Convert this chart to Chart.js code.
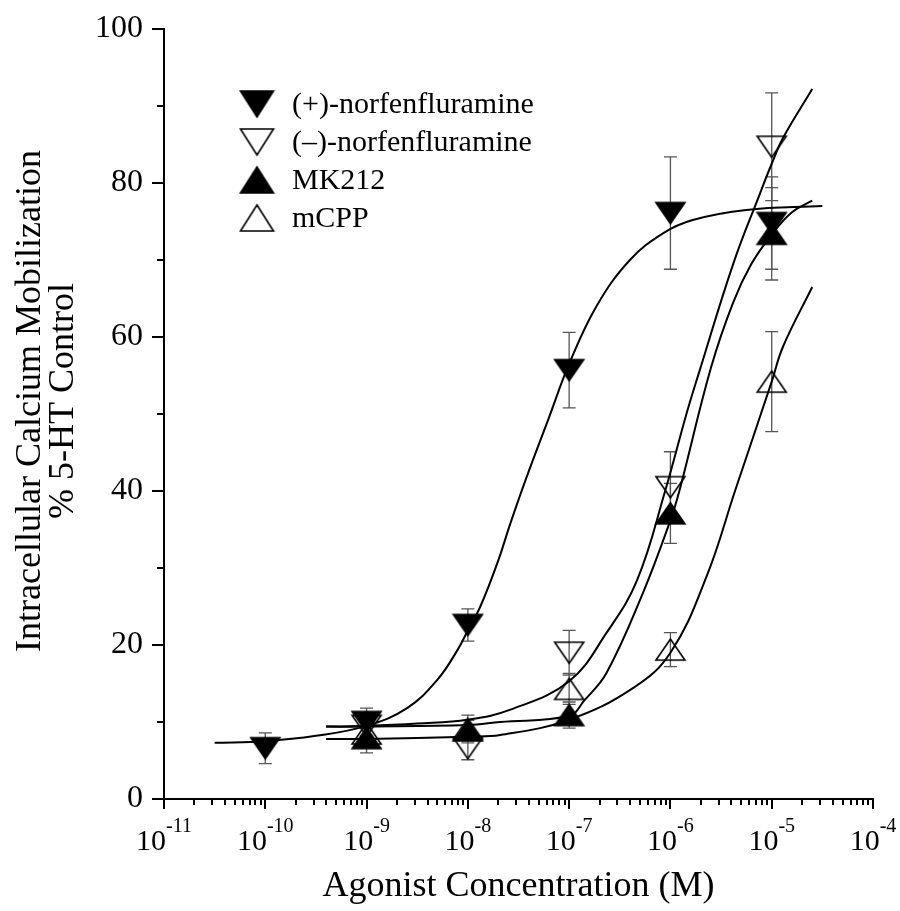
<!DOCTYPE html>
<html>
<head>
<meta charset="utf-8">
<script src="https://cdn.jsdelivr.net/npm/chart.js@4.4.1/dist/chart.umd.min.js"></script>
<style>
  html, body { margin: 0; padding: 0; background: #fff; }
  #wrap { width: 900px; height: 911px; position: relative; }
</style>
</head>
<body>
<div id="wrap"><canvas id="chart"></canvas></div>
<script>
const FONT = '"Liberation Serif", "Times New Roman", serif';

const seriesNames = ['(+)-norfenfluramine', '(\u2013)-norfenfluramine', 'MK212', 'mCPP'];
const yTitle = ['Intracellular Calcium Mobilization', '% 5-HT Control'];

// measured points (log10 of molar concentration), mean % and error
const plusLogs = [-10, -9, -8, -7, -6, -5];
const plusMean = [6.6, 10.0, 22.6, 55.7, 76.1, 74.8];
const plusErr = [2.0, 1.8, 2.1, 4.9, 7.3, 6.0];

const otherLogs = [-9, -8, -7, -6, -5];
const minusMean = [9.5, 6.6, 19.0, 40.5, 84.7];
const minusErr = [1.5, 1.5, 2.9, 4.6, 7.0];
const mk212Mean = [7.9, 8.9, 10.9, 37.1, 73.4];
const mk212Err = [1.9, 1.3, 1.7, 3.9, 6.0];
const mcppMean = [8.5, 9.1, 14.3, 19.4, 54.2];
const mcppErr = [1.4, 1.8, 2.0, 2.2, 6.5];

// fitted curves
const plusFitLogs = [-10.5, -10, -9.5, -9, -8.6, -8.3, -8.1, -8, -7.88, -7.71, -7.58, -7.42, -7.2, -7, -6.73, -6.4, -6.07, -5.78, -5.25, -4.5];
const plusFit = [7.3, 7.5, 8.2, 9.5, 11.8, 15.5, 19.4, 21.9, 24.9, 30.6, 35.8, 41.8, 49.5, 56.5, 64.0, 70.0, 73.5, 75.2, 76.5, 77.0];
const minusFitLogs = [-9.4, -9, -8.5, -8, -7.58, -7, -6.63, -6.33, -6.05, -5.84, -5.71, -5.38, -5.12, -5, -4.89, -4.6];
const minusFit = [9.4, 9.5, 9.8, 10.3, 11.6, 15.3, 21.6, 28.4, 40.1, 50.1, 55.7, 69.5, 78.5, 82.5, 85.8, 92.2];
const mk212FitLogs = [-9.4, -9, -8, -7.68, -7, -6.85, -6.63, -6.27, -6, -5.91, -5.6, -5.38, -5.2, -5, -4.8, -4.6];
const mk212Fit = [9.4, 9.4, 9.6, 10.0, 10.8, 12.8, 16.4, 26.8, 36.2, 40.1, 56.0, 64.5, 69.5, 73.3, 76.2, 77.7];
const mcppFitLogs = [-9.4, -9, -8, -7.68, -7, -6.37, -6, -5.64, -5.36, -5, -4.89, -4.6];
const mcppFit = [7.8, 7.8, 8.1, 8.3, 10.3, 14.4, 19.0, 29.0, 40.1, 54.2, 58.7, 66.5];

const xDecades = [-11, -10, -9, -8, -7, -6, -5, -4];
const yLabels = [0, 20, 40, 60, 80, 100];

const pts = (logs, ys) => logs.map((l, i) => ({ x: Math.pow(10, l), y: ys[i] }));

function triangle(w, h, down, filled) {
  const c = document.createElement('canvas');
  c.width = w + 4; c.height = h + 4;
  const g = c.getContext('2d');
  g.beginPath();
  if (down) { g.moveTo(2, 2); g.lineTo(2 + w, 2); g.lineTo(2 + w / 2, 2 + h); }
  else { g.moveTo(2 + w / 2, 2); g.lineTo(2 + w, 2 + h); g.lineTo(2, 2 + h); }
  g.closePath();
  if (filled) { g.fillStyle = '#000'; g.fill(); }
  g.lineWidth = 1.6; g.strokeStyle = '#000'; g.stroke();
  return c;
}

const markers = [triangle(29, 21, true, true), triangle(29, 21, true, false), triangle(29, 21, false, true), triangle(29, 21, false, false)];
const legendMarkers = [triangle(33, 26, true, true), triangle(33, 26, true, false), triangle(33, 26, false, true), triangle(33, 26, false, false)];

function pointSet(i, data, err) {
  return { label: seriesNames[i], data: data, err: err, showLine: false,
           pointStyle: markers[i], pointRadius: 10, borderColor: '#000', backgroundColor: '#000' };
}
function fitSet(data) {
  return { data: data, showLine: true, pointRadius: 0, borderColor: '#000', borderWidth: 2,
           tension: 0.4, fill: false };
}

const errorBars = {
  id: 'errorBars',
  beforeDatasetsDraw(chart) {
    const { ctx, scales: { x, y } } = chart;
    ctx.save();
    ctx.strokeStyle = '#555'; ctx.lineWidth = 1.3;
    chart.data.datasets.forEach(ds => {
      if (!ds.err) return;
      ds.data.forEach((p, i) => {
        const px = x.getPixelForValue(p.x);
        const top = y.getPixelForValue(p.y + ds.err[i]);
        const bot = y.getPixelForValue(p.y - ds.err[i]);
        ctx.beginPath();
        ctx.moveTo(px, top); ctx.lineTo(px, bot);
        ctx.moveTo(px - 6.5, top); ctx.lineTo(px + 6.5, top);
        ctx.moveTo(px - 6.5, bot); ctx.lineTo(px + 6.5, bot);
        ctx.stroke();
      });
    });
    ctx.restore();
  }
};

const axisDecor = {
  id: 'axisDecor',
  afterDraw(chart) {
    const { ctx, chartArea: a, scales: { x, y } } = chart;
    ctx.save();
    ctx.strokeStyle = '#000'; ctx.lineWidth = 2;
    ctx.beginPath();
    // y ticks, outward
    for (let v = 0; v <= 100; v += 10) {
      const py = Math.round(y.getPixelForValue(v));
      ctx.moveTo(a.left, py); ctx.lineTo(a.left - (v % 20 === 0 ? 12 : 7), py);
    }
    // x ticks, outward, with minor ticks 2..9
    xDecades.forEach(e => {
      for (let m = 1; m <= 9; m++) {
        if (e === -4 && m > 1) break;
        const px = Math.round(x.getPixelForValue(m * Math.pow(10, e)));
        ctx.moveTo(px, a.bottom); ctx.lineTo(px, a.bottom + (m === 1 ? 10 : 6));
      }
    });
    ctx.stroke();

    // x tick labels 10^n
    ctx.fillStyle = '#000';
    ctx.textAlign = 'left'; ctx.textBaseline = 'alphabetic';
    xDecades.forEach(e => {
      const px = x.getPixelForValue(Math.pow(10, e));
      ctx.font = '30px ' + FONT;
      const w1 = ctx.measureText('10').width;
      ctx.font = '20px ' + FONT;
      const sup = String(e);
      const w2 = ctx.measureText(sup).width;
      const start = px - (w1 + w2) / 2;
      ctx.font = '30px ' + FONT;
      ctx.fillText('10', start, 850);
      ctx.font = '20px ' + FONT;
      ctx.fillText(sup, start + w1, 832);
    });

    // y axis title, two lines
    ctx.save();
    ctx.translate(31, 401);
    ctx.rotate(-Math.PI / 2);
    ctx.font = '36px ' + FONT;
    ctx.textAlign = 'center'; ctx.textBaseline = 'middle';
    ctx.fillText(yTitle[0], 0, 0);
    ctx.fillText(yTitle[1], 0, 33);
    ctx.restore();

    // legend
    const rows = [104, 142, 180, 218];
    ctx.font = '30px ' + FONT;
    ctx.textBaseline = 'middle'; ctx.textAlign = 'left';
    seriesNames.forEach((name, i) => {
      const img = legendMarkers[i];
      ctx.drawImage(img, 257 - img.width / 2, rows[i] - img.height / 2);
      ctx.fillText(name, 292, rows[i] + 1);
    });
    ctx.restore();
  }
};

new Chart(document.getElementById('chart'), {
  type: 'scatter',
  data: {
    datasets: [
      pointSet(0, pts(plusLogs, plusMean), plusErr),
      pointSet(2, pts(otherLogs, mk212Mean), mk212Err),
      pointSet(1, pts(otherLogs, minusMean), minusErr),
      pointSet(3, pts(otherLogs, mcppMean), mcppErr),
      fitSet(pts(plusFitLogs, plusFit)),
      fitSet(pts(minusFitLogs, minusFit)),
      fitSet(pts(mk212FitLogs, mk212Fit)),
      fitSet(pts(mcppFitLogs, mcppFit))
    ]
  },
  options: {
    responsive: true,
    maintainAspectRatio: false,
    animation: false,
    layout: { autoPadding: false, padding: { top: 29, right: 27, left: 0, bottom: 0 } },
    plugins: { legend: { display: false }, tooltip: { enabled: false } },
    scales: {
      x: {
        type: 'logarithmic', min: 1e-11, max: 1e-4,
        grid: { display: false, drawTicks: false },
        border: { display: true, color: '#000', width: 2 },
        ticks: { display: false },
        title: { display: true, text: 'Agonist Concentration (M)', color: '#000',
                 font: { family: FONT, size: 36, lineHeight: 1 }, padding: { top: 0, bottom: 6 } },
        afterFit(s) { s.height = 112; }
      },
      y: {
        min: 0, max: 100,
        grid: { display: false, drawTicks: false },
        border: { display: true, color: '#000', width: 2 },
        afterBuildTicks(s) { s.ticks = yLabels.map(v => ({ value: v })); },
        ticks: { color: '#000', padding: 21, font: { family: FONT, size: 32 } },
        afterFit(s) { s.width = 164; s.paddingTop = 0; s.paddingBottom = 0; }
      }
    }
  },
  plugins: [errorBars, axisDecor]
});
</script>
</body>
</html>
